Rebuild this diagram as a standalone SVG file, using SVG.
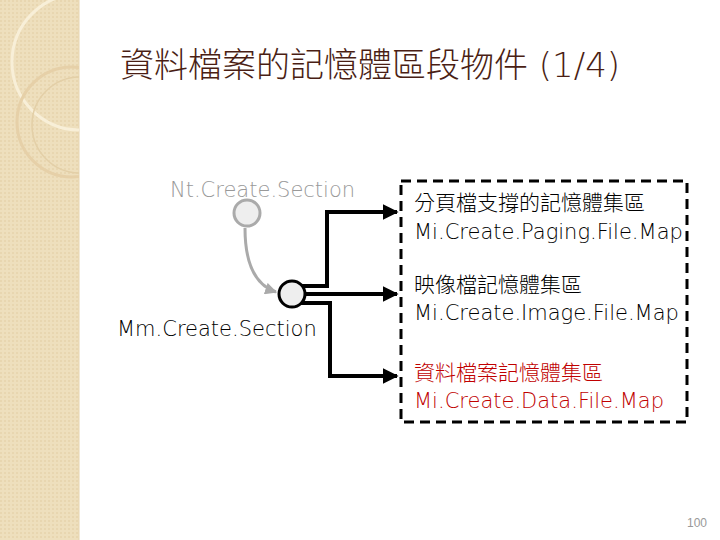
<svg xmlns="http://www.w3.org/2000/svg" width="720" height="540" viewBox="0 0 720 540">
<defs>
<pattern id="p" width="4" height="4" patternUnits="userSpaceOnUse"><rect width="4" height="4" fill="#eedfbd"/><rect width="2" height="2" fill="#e8d6b0"/></pattern>
<clipPath id="cl"><rect width="79" height="540"/></clipPath>
<marker id="a" viewBox="0 0 10 10" refX="9" refY="5" markerWidth="4" markerHeight="4" orient="auto"><path d="M0,0L10,5L0,10z" fill="#000"/></marker>
<marker id="g" viewBox="0 0 10 10" refX="9" refY="5" markerWidth="4" markerHeight="4" orient="auto"><path d="M0,0L10,5L0,10z" fill="#aaa"/></marker>
<style>.t{font-family:"DejaVu Sans","Noto Sans CJK TC",sans-serif;font-size:21px;font-weight:300}.c{stroke:#000;stroke-width:4;fill:none}</style>
</defs>
<rect width="720" height="540" fill="#fff"/>
<rect width="79" height="540" fill="url(#p)"/>
<line x1="79" y1="0" x2="79" y2="540" stroke="#e6d3ad" stroke-width="1"/>
<g fill="none" stroke-width="3" clip-path="url(#cl)">
<circle cx="80" cy="62" r="68" stroke="#f8efd8"/>
<circle cx="72" cy="122" r="55" stroke="#e6d0a8"/>
<circle cx="80" cy="125" r="48" stroke="#e3cfa7" stroke-width="1.5"/>
</g>
<text x="120" y="77" font-family="DejaVu Sans,'Noto Sans CJK TC',sans-serif" font-size="34" font-weight="300" fill="#4a1e14">資料檔案的記憶體區段物件 (1/4)</text>
<g id="edges">
<path d="M245,228 C245,262 255,285 276,292" stroke="#aaa" stroke-width="3" fill="none" marker-end="url(#g)"/>
<path class="c" d="M300,286H327V212H397" marker-end="url(#a)"/>
<path class="c" d="M306,294H397" marker-end="url(#a)"/>
<path class="c" d="M300,303H330V376H397" marker-end="url(#a)"/>
</g>
<g id="nt"><circle cx="247" cy="213" r="13" fill="#eee" stroke="#aaa" stroke-width="3"/><text class="t" x="170" y="197" fill="#999">Nt.Create.Section</text></g>
<g id="mm"><circle cx="292" cy="294" r="13" fill="#eee" stroke="#000" stroke-width="3"/><text class="t" x="117" y="336">Mm.Create.Section</text></g>
<g id="box"><rect x="401" y="181" width="286" height="241" fill="none" stroke="#000" stroke-width="3" stroke-dasharray="10,6"/>
<text class="t" x="414" y="210">分頁檔支撐的記憶體集區</text>
<text class="t" x="414" y="239">Mi.Create.Paging.File.Map</text>
<text class="t" x="414" y="292">映像檔記憶體集區</text>
<text class="t" x="414" y="320">Mi.Create.Image.File.Map</text>
<text class="t" x="414" y="380" fill="#c00000">資料檔案記憶體集區</text>
<text class="t" x="414" y="408" fill="#c00000">Mi.Create.Data.File.Map</text>
</g>
<text x="687" y="527" font-family="Liberation Sans,sans-serif" font-size="12" fill="#999">100</text>
</svg>
